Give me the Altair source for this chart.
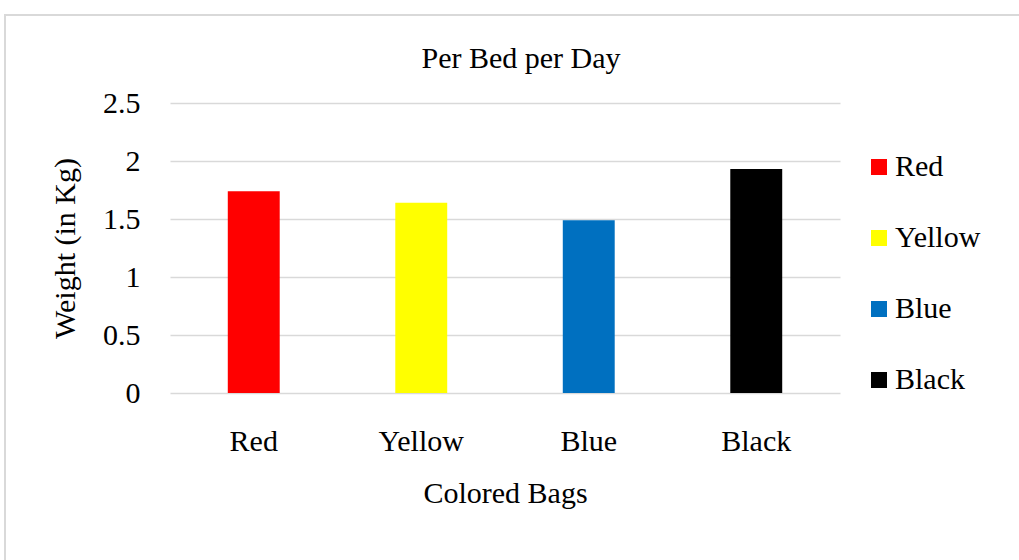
import altair as alt
import pandas as pd

categories = ["Red", "Yellow", "Blue", "Black"]
weights = [1.74, 1.64, 1.49, 1.93]
colors = ["#FF0000", "#FFFF00", "#0070C0", "#000000"]

df = pd.DataFrame({"bag": categories, "weight": weights})

FONT = "Liberation Serif"

frame = alt.Chart(pd.DataFrame({"a": [0]})).mark_rect(
    fillOpacity=0, stroke="#D9D9D9", strokeWidth=2
).encode(
    x=alt.value(-165), x2=alt.value(870), y=alt.value(-88), y2=alt.value(480)
)

bars = alt.Chart(df).mark_bar().encode(
    x=alt.X("bag:N", sort=categories, title="Colored Bags",
            scale=alt.Scale(paddingInner=0.69, paddingOuter=0.345),
            axis=alt.Axis(labelAngle=0, domain=False, ticks=False, grid=False, labelPadding=33,
                          titlePadding=22, labelFontSize=30, titleFontSize=30,
                          labelFont=FONT, titleFont=FONT, titleFontWeight="normal",
                          labelColor="black", titleColor="black")),
    y=alt.Y("weight:Q", title="Weight (in Kg)",
            scale=alt.Scale(domain=[0, 2.5]),
            axis=alt.Axis(values=[0, 0.5, 1, 1.5, 2, 2.5], format="~g", domain=False, ticks=False,
                          labelPadding=30, titlePadding=22, labelFontSize=30, titleFontSize=30,
                          labelFont=FONT, titleFont=FONT, titleFontWeight="normal",
                          labelColor="black", titleColor="black",
                          gridColor="#D9D9D9", gridWidth=1.5)),
    color=alt.Color("bag:N", sort=categories,
                    scale=alt.Scale(domain=categories, range=colors),
                    legend=alt.Legend(title=None, orient="none", legendX=694, legendY=49,
                                      symbolType="square", symbolSize=256, symbolStrokeWidth=0,
                                      labelFontSize=30, labelFont=FONT, labelColor="black",
                                      rowPadding=41, labelOffset=1)),
)

chart = alt.layer(frame, bars).properties(
    width=670, height=290,
    background="white",
    padding={"left": 170, "top": 103, "right": 179, "bottom": 167},
    autosize=alt.AutoSizeParams(type="none"),
    title=alt.Title("Per Bed per Day", font=FONT, fontSize=30, fontWeight="normal",
                    color="black", offset=35, dx=16, dy=95),
).configure_view(strokeWidth=0, stroke="transparent")

chart.save("out.html", embed_options={"renderer": "svg", "actions": False})
